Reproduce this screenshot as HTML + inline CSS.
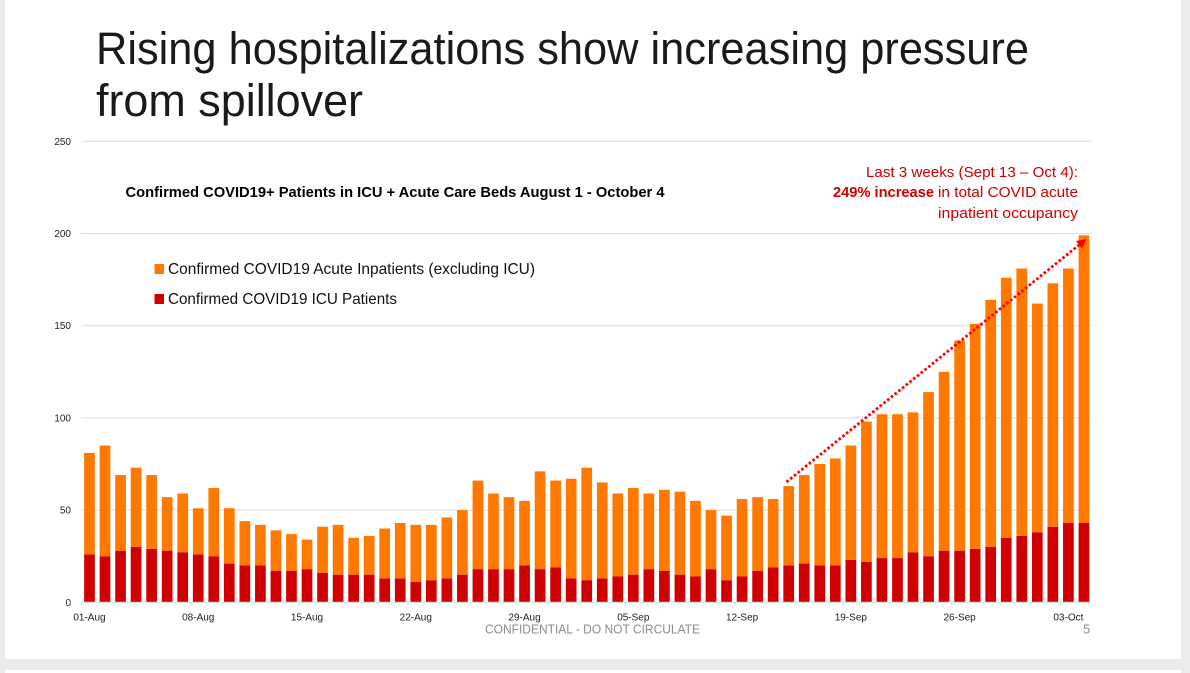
<!DOCTYPE html>
<html lang="en">
<head>
<meta charset="utf-8">
<title>Rising hospitalizations</title>
<style>
html,body{margin:0;padding:0;background:#fff;}
body{width:1190px;height:673px;overflow:hidden;}
svg{display:block;font-family:"Liberation Sans",sans-serif;}
</style>
</head>
<body>
<svg id="slide" width="1190" height="673" viewBox="0 0 1190 673" xmlns="http://www.w3.org/2000/svg">
  <rect x="0" y="0" width="1190" height="673" fill="#ffffff"/>
  <rect x="0" y="0" width="5" height="673" fill="#ebebeb"/>
  <rect x="1181" y="0" width="9" height="673" fill="#ebebeb"/>
  <rect x="0" y="659" width="1190" height="11" fill="#ebebeb"/>

  <text x="96" y="64" font-size="45" fill="#1a1a1a" textLength="933" lengthAdjust="spacingAndGlyphs">Rising hospitalizations show increasing pressure</text>
  <text x="96" y="116" font-size="45" fill="#1a1a1a" textLength="267" lengthAdjust="spacingAndGlyphs">from spillover</text>

  <g id="grid"></g>
  <g id="yaxis"></g>
  <g id="bars"></g>
  <g id="xaxis"></g>

  <text x="125.5" y="197" font-size="15" font-weight="700" fill="#000" textLength="539" lengthAdjust="spacingAndGlyphs">Confirmed COVID19+ Patients in ICU + Acute Care Beds August 1 - October 4</text>

  <g>
    <rect x="154.5" y="264" width="9.5" height="10" fill="#ff7800"/>
    <text x="168" y="274" font-size="16" fill="#111" textLength="367" lengthAdjust="spacingAndGlyphs">Confirmed COVID19 Acute Inpatients (excluding ICU)</text>
    <rect x="154.5" y="294" width="9.5" height="10" fill="#d00000"/>
    <text x="168" y="304" font-size="16" fill="#111" textLength="229" lengthAdjust="spacingAndGlyphs">Confirmed COVID19 ICU Patients</text>
  </g>

  <g fill="#cc0000" font-size="15">
    <text x="866" y="177" textLength="212" lengthAdjust="spacingAndGlyphs">Last 3 weeks (Sept 13 – Oct 4):</text>
    <text x="833" y="197" font-weight="700" textLength="101" lengthAdjust="spacingAndGlyphs">249% increase</text>
    <text x="938" y="197" textLength="140" lengthAdjust="spacingAndGlyphs">in total COVID acute</text>
    <text x="938" y="218" textLength="140" lengthAdjust="spacingAndGlyphs">inpatient occupancy</text>
  </g>

  <line x1="786.5" y1="482" x2="1079" y2="245" stroke="#ff0000" stroke-width="2.8" stroke-dasharray="2.6 2.2"/>
  <polygon points="1086.5,239 1082,248.5 1076,241" fill="#ff0000"/>

  <text x="485" y="633.5" font-size="13" fill="#8c8c8c" textLength="215" lengthAdjust="spacingAndGlyphs">CONFIDENTIAL - DO NOT CIRCULATE</text>
  <text x="1083" y="633.5" font-size="13" fill="#8c8c8c">5</text>
</svg>
<script>
const icuPatients = [26,25,28,30,29,28,27,26,25,21,20,20,17,17,18,16,15,15,15,13,13,11,12,13,15,18,18,18,20,18,19,13,12,13,14,15,18,17,15,14,18,12,14,17,19,20,21,20,20,23,22,24,24,27,25,28,28,29,30,35,36,38,41,43,43];
const acuteInpatients = [55,60,41,43,40,29,32,25,37,30,24,22,22,20,16,25,27,20,21,27,30,31,30,33,35,48,41,39,35,53,47,54,61,52,45,47,41,44,45,41,32,35,42,40,37,43,48,55,58,62,76,78,78,76,89,97,114,122,134,141,145,124,132,138,156];
const xTickLabels = ["01-Aug","08-Aug","15-Aug","22-Aug","29-Aug","05-Sep","12-Sep","19-Sep","26-Sep","03-Oct"];
const yTickLabels = [0,50,100,150,200,250];

const SVGNS = "http://www.w3.org/2000/svg";
const plotLeft = 81.7, plotRight = 1091.7, plotBottom = 602.3, plotTop = 141.3, yMax = 250;
const band = (plotRight - plotLeft) / icuPatients.length;
const barWidth = 10.7;
function xScale(i) { return plotLeft + band * i; }
function yScale(v) { return plotBottom - (plotBottom - plotTop) * v / yMax; }
function make(tag, parent, attrs) {
  const el = document.createElementNS(SVGNS, tag);
  for (const k in attrs) el.setAttribute(k, attrs[k]);
  parent.appendChild(el);
  return el;
}
const gridG = document.getElementById("grid");
const yG = document.getElementById("yaxis");
const xG = document.getElementById("xaxis");
const barsG = document.getElementById("bars");

yTickLabels.forEach(function (v) {
  if (v !== 0) {
    const g = make("line", gridG, {x1: plotLeft, x2: plotRight, y1: yScale(v), y2: yScale(v), stroke: "#dcdcdc", "stroke-width": 1});
    
    
  }
  const t = make("text", yG, {x: 71, y: yScale(v) + 3.5, "font-size": 10, "text-anchor": "end", fill: "#222"});
  t.textContent = v;
  
  
});

icuPatients.forEach(function (icu, i) {
  const acute = acuteInpatients[i];
  const x = xScale(i) + (band - barWidth) / 2;
  const r1 = make("rect", barsG, {x: x, y: yScale(icu), width: barWidth, height: yScale(0) - yScale(icu), fill: "#d00000"});
  
  
  const r2 = make("rect", barsG, {x: x, y: yScale(icu + acute), width: barWidth, height: yScale(icu) - yScale(icu + acute), fill: "#ff7800"});
  
  
});

const axisLine = make("line", xG, {x1: plotLeft, x2: plotRight, y1: plotBottom, y2: plotBottom, stroke: "#d4d4d4", "stroke-width": 1});



xTickLabels.forEach(function (label, k) {
  const i = k * 7;
  const tick = make("line", xG, {x1: xScale(i), x2: xScale(i), y1: plotBottom, y2: plotBottom + 3, stroke: "#d4d4d4", "stroke-width": 1});
  
  
  const t = make("text", xG, {x: xScale(i) + band / 2, y: 620.5, "font-size": 10, "text-anchor": "middle", fill: "#222"});
  t.textContent = label;
  
  
});
</script>
</body>
</html>
